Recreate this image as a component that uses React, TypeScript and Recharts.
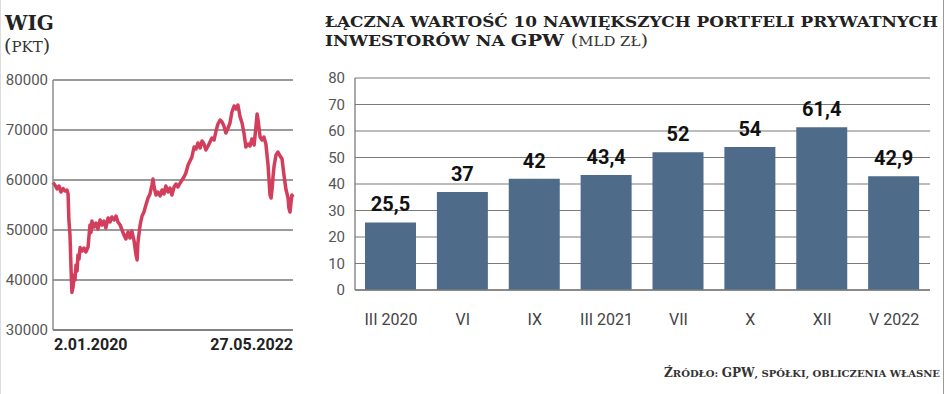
import React from 'react';
import { LineChart, Line, BarChart, Bar, XAxis, YAxis, CartesianGrid, LabelList } from 'recharts';

// WIG index: days since 2.01.2020 and index value (pkt)
const wigDays = [0, 7, 15, 22, 29, 37, 44, 51, 55, 58, 62, 66, 69, 73, 77, 80, 84, 88, 91, 95, 99, 106, 113, 120, 128, 131, 135, 139, 142, 150, 157, 164, 172, 179, 186, 193, 201, 208, 215, 223, 230, 237, 245, 252, 259, 266, 274, 281, 288, 296, 303, 307, 310, 318, 325, 332, 339, 347, 354, 361, 365, 369, 376, 383, 391, 398, 405, 412, 420, 427, 434, 442, 449, 456, 464, 471, 478, 485, 493, 500, 507, 515, 522, 529, 537, 544, 551, 558, 566, 573, 580, 588, 595, 602, 610, 617, 624, 631, 639, 646, 653, 661, 668, 675, 683, 690, 697, 704, 712, 719, 726, 734, 741, 745, 748, 756, 763, 770, 777, 785, 792, 796, 800, 803, 807, 814, 821, 829, 836, 843, 850, 858, 861, 865, 869, 872, 876];
const wigValues = [59500, 59000, 58200, 58800, 57600, 58300, 57800, 58000, 57200, 52000, 49000, 42000, 37500, 38500, 41000, 40000, 43000, 41800, 45000, 44200, 46500, 45800, 46400, 45600, 46600, 48500, 51000, 49500, 51800, 50600, 51400, 50200, 52000, 51000, 51800, 50400, 52400, 51600, 52600, 52000, 52800, 51600, 51000, 50000, 49000, 48200, 49600, 48400, 49800, 47800, 45000, 44000, 47500, 51000, 52800, 53600, 55000, 56400, 57200, 59000, 60200, 58600, 57000, 57600, 56800, 58000, 57200, 58800, 57600, 58400, 57000, 58600, 59200, 58600, 59400, 60000, 60600, 61400, 63000, 63800, 64600, 66600, 66200, 67400, 66400, 67800, 67200, 66000, 66800, 67600, 68400, 68000, 69800, 71200, 72000, 71600, 70800, 69400, 70400, 71400, 73600, 74800, 74200, 75000, 72600, 71400, 69400, 66600, 67200, 66800, 68200, 67000, 70800, 73200, 72200, 68600, 68000, 68600, 67200, 63000, 57000, 56400, 58400, 60600, 62800, 65000, 65600, 64800, 64200, 61000, 58200, 56400, 54400, 53600, 55600, 57000, 56600];
const wigYTicks = [30000, 40000, 50000, 60000, 70000, 80000];
const wigXTicks = [0, 876];
const wigXLabels = ['2.01.2020', '27.05.2022'];

// Top-10 private investors' portfolios (mld zł)
const periods = ['III 2020', 'VI', 'IX', 'III 2021', 'VII', 'X', 'XII', 'V 2022'];
const portfolioValues = [25.5, 37, 42, 43.4, 52, 54, 61.4, 42.9];
const barYTicks = [0, 10, 20, 30, 40, 50, 60, 70, 80];

const wigData = wigDays.map((d, i) => ({ d, v: wigValues[i] }));
const barData = periods.map((p, i) => ({ p, v: portfolioValues[i] }));

const TICK_FONT = 'Roboto, "Liberation Sans", Arial, sans-serif';
const SERIF = '"DejaVu Serif", "Liberation Serif", serif';

const WigTick = (props: any) => {
  const { x, y, payload, index } = props;
  const first = index === 0;
  return (
    <text
      x={first ? x + 1 : x}
      y={y + 20}
      textAnchor={first ? 'start' : 'end'}
      fontFamily={TICK_FONT}
      fontWeight={700}
      fontSize={16}
      fill="#222"
    >
      {wigXLabels[wigXTicks.indexOf(payload.value)]}
    </text>
  );
};

export default function App() {
  return (
    <div style={{ position: 'absolute', left: 0, top: 0, width: 948, height: 394, background: '#fff', overflow: 'hidden' }}>
      <div style={{ position: 'absolute', left: 0, top: 0 }}>
        <LineChart width={310} height={394} data={wigData} margin={{ top: 80, right: 17, bottom: 34, left: 0 }}>
          <CartesianGrid vertical={false} stroke="#7a7a7a" strokeWidth={1.3} />
          <XAxis
            dataKey="d"
            type="number"
            domain={[0, 876]}
            ticks={wigXTicks}
            interval={0}
            axisLine={{ stroke: '#7a7a7a', strokeWidth: 1.3 }}
            tickLine={false}
            tickSize={0}
            tickMargin={0}
            height={30}
            tick={<WigTick />}
          />
          <YAxis
            type="number"
            domain={[30000, 80000]}
            ticks={wigYTicks}
            interval={0}
            width={53}
            axisLine={{ stroke: '#7a7a7a', strokeWidth: 1.3 }}
            tickLine={false}
            tickSize={0}
            tickMargin={5}
            tick={{ fontSize: 15, fill: '#555', fontFamily: TICK_FONT }}
          />
          <Line
            type="linear"
            dataKey="v"
            stroke="#d23e5c"
            strokeWidth={3.5}
            strokeLinejoin="round"
            dot={false}
            isAnimationActive={false}
          />
        </LineChart>
      </div>
      <div style={{ position: 'absolute', left: 300, top: 0 }}>
        <BarChart width={648} height={394} data={barData} margin={{ top: 78, right: 18, bottom: 54, left: 0 }}>
          <CartesianGrid vertical={false} stroke="#7a7a7a" strokeWidth={1.2} />
          <XAxis
            dataKey="p"
            interval={0}
            axisLine={{ stroke: '#7a7a7a', strokeWidth: 1.5 }}
            tickLine={false}
            tickSize={0}
            tickMargin={24}
            height={50}
            tick={{ fontSize: 16, fill: '#444', fontFamily: TICK_FONT }}
          />
          <YAxis
            type="number"
            domain={[0, 80]}
            ticks={barYTicks}
            interval={0}
            width={55}
            axisLine={{ stroke: '#7a7a7a', strokeWidth: 1.3 }}
            tickLine={false}
            tickSize={0}
            tickMargin={10}
            tick={{ fontSize: 15, fill: '#555', fontFamily: TICK_FONT }}
          />
          <Bar dataKey="v" fill="#4e6b8a" barSize={51} isAnimationActive={false}>
            <LabelList
              dataKey="v"
              position="top"
              offset={11}
              formatter={(v: any) => String(v).replace('.', ',')}
              style={{ fontSize: 20, fontWeight: 700, fill: '#111', fontFamily: TICK_FONT }}
            />
          </Bar>
        </BarChart>
      </div>
      <svg width={948} height={394} style={{ position: 'absolute', left: 0, top: 0, pointerEvents: 'none' }}>
        <line x1={943.5} y1={0} x2={943.5} y2={394} stroke="#999" strokeWidth={1} />
        <line x1={0.5} y1={0} x2={0.5} y2={394} stroke="#ddd" strokeWidth={1} />
        <text x={5} y={30} fontFamily={SERIF} fontWeight={700} fontSize={20} fill="#222">WIG</text>
        <text x={4} y={52} fontFamily={SERIF} fill="#333">
          <tspan fontSize={19}>(</tspan>
          <tspan fontSize={15}>PKT</tspan>
          <tspan fontSize={19}>)</tspan>
        </text>
        <text x={325} y={27} fontFamily={SERIF} fontWeight={700} fontSize={15} fill="#222" textLength={613} lengthAdjust="spacingAndGlyphs">
          ŁĄCZNA WARTOŚĆ 10 NAWIĘKSZYCH PORTFELI PRYWATNYCH
        </text>
        <text x={325} y={46} fontFamily={SERIF} fill="#222" textLength={323} lengthAdjust="spacingAndGlyphs">
          <tspan fontWeight={700} fontSize={15}>INWESTORÓW NA </tspan>
          <tspan fontWeight={700} fontSize={17}>GPW </tspan>
          <tspan fontSize={17} fill="#333">(</tspan>
          <tspan fontSize={13} fill="#333">MLD ZŁ</tspan>
          <tspan fontSize={17} fill="#333">)</tspan>
        </text>
        <text x={664} y={377} fontFamily={SERIF} fontWeight={700} fill="#333" textLength={276} lengthAdjust="spacingAndGlyphs">
          <tspan fontSize={12}>Ź</tspan>
          <tspan fontSize={10}>RÓDŁO: </tspan>
          <tspan fontSize={12}>GPW</tspan>
          <tspan fontSize={10}>, SPÓŁKI, OBLICZENIA WŁASNE</tspan>
        </text>
      </svg>
    </div>
  );
}
